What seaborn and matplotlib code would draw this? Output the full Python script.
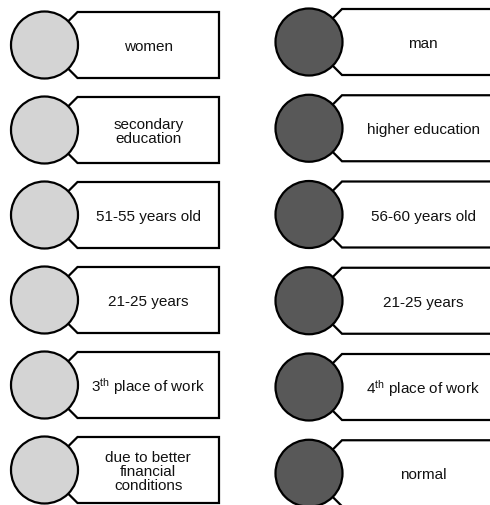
import matplotlib
matplotlib.use("Agg")
import matplotlib.pyplot as plt
import seaborn as sns
from matplotlib.patches import Circle, Polygon

sns.set_theme(style="white")
plt.rcParams['font.family'] = ['Liberation Sans', 'DejaVu Sans']
plt.rcParams['mathtext.fontset'] = 'custom'
plt.rcParams['mathtext.rm'] = 'Liberation Sans'
plt.rcParams['mathtext.it'] = 'Liberation Sans'

# labels of the two columns
left_labels = ["women", "secondary\neducation", "51-55 years old", "21-25 years",
               r"3$^{\mathrm{th}}$ place of work", "due to better\nfinancial\nconditions"]
right_labels = ["man", "higher education", "56-60 years old", "21-25 years",
                r"4$^{\mathrm{th}}$ place of work", "normal"]
left_color = "#d4d4d4"
right_color = "#585858"

fig = plt.figure(figsize=(4.9, 5.06), dpi=100)
ax = fig.add_axes([0, 0, 1, 1])
ax.set_xlim(0, 490)
ax.set_ylim(506, 0)
ax.axis("off")


def tag(cx, top, step, right, labels, color):
    r = 33.5
    h = 66
    for i, lab in enumerate(labels):
        y0 = top + i * step
        cy = y0 + h / 2
        left = cx + h / 2
        pts = [(cx, cy), (left, y0), (right, y0), (right, y0 + h), (left, y0 + h)]
        ax.add_patch(Polygon(pts, closed=True, facecolor="white", edgecolor="black",
                             lw=1.6, joinstyle="miter", zorder=1))
        ax.add_patch(Circle((cx, cy), r, facecolor=color, edgecolor="black",
                            lw=1.6, zorder=2))
        ax.text((left + right) / 2, cy + 1, lab, ha="center", va="center",
                fontsize=11, color="#111111", linespacing=1.0, zorder=3)


tag(44.5, 13, 85, 219, left_labels, left_color)
tag(309, 10, 86.25, 504, right_labels, right_color)

fig.savefig("out.png", dpi=100)
